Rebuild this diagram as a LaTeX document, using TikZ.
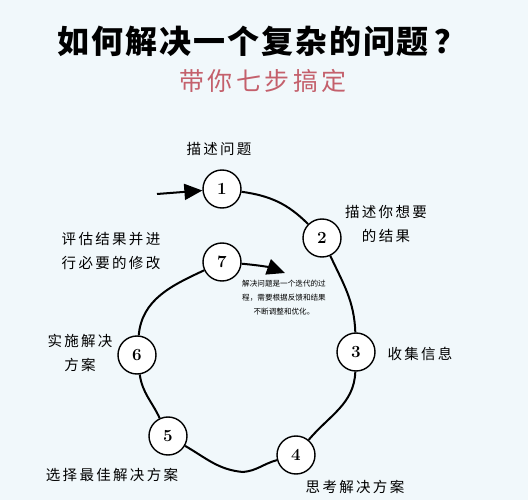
\documentclass[tikz,border=0pt]{standalone}
\usepackage{fontspec}
\newfontfamily\cjk{Noto Sans CJK SC}
\newfontfamily\cjkwide[LetterSpace=16]{Noto Sans CJK SC}
\usetikzlibrary{arrows.meta}
\definecolor{bgblue}{RGB}{241,248,251}
\definecolor{subred}{RGB}{196,96,108}
\begin{document}
\begin{tikzpicture}[x=1pt,y=-1pt,
	stepnode/.style={circle,draw,line width=1.4pt,fill=white,minimum size=38pt,inner sep=0pt,font=\fontsize{17}{17}\selectfont\bfseries},
	steplabel/.style={font=\cjkwide\fontsize{14.5}{24}\selectfont,align=center},
	loopline/.style={line width=2pt},
	bigtip/.style={-{Triangle[length=18pt,width=16pt]}}]
	\fill [bgblue] (0,0) rectangle (528,500);
	\useasboundingbox (0,0) rectangle (528,500);
	\node (title) at (262,41) {\cjk\addfontfeature{LetterSpace=6}\bfseries\fontsize{32}{32}\selectfont 如何解决一个复杂的问题\,？};
	\node (subtitle) at (263,81) [text=subred] {\cjk\addfontfeature{LetterSpace=14}\fontsize{25}{25}\selectfont 带你七步搞定};
	% Schritte
	\node [stepnode] (s1) at (222,189) {1};
	\node [stepnode] (s2) at (322,238) {2};
	\node [stepnode] (s3) at (356,352) {3};
	\node [stepnode] (s4) at (296,455) {4};
	\node [stepnode] (s5) at (168,436) {5};
	\node [stepnode] (s6) at (137,355) {6};
	\node [stepnode] (s7) at (222,262) {7};
	\coordinate (start) at (157,194);
	\coordinate (bottom) at (243,472);
	\coordinate (loopend) at (285,273);
	\draw [loopline] (s1) to[out=-8,in=135] (s2);
	\draw [loopline] (s2) to[out=-65,in=92] (s3);
	\draw [loopline] (s3) to[out=-92,in=50] (s4);
	\draw [loopline] (s4) to[out=195,in=5] (bottom) to[out=175,in=-30] (s5);
	\draw [loopline] (s5) to[out=115,in=-82] (s6);
	\draw [loopline] (s6) to[out=85,in=205] (s7);
	\draw [loopline,bigtip] (s7) to[out=-5,in=160] (loopend);
	\draw [loopline,bigtip] (start) -- (s1);
	% Beschriftungen
	\node [steplabel] (l1) at (219,149) {描述问题};
	\node [steplabel] (l2) at (386,224) {描述你想要\\的结果};
	\node [steplabel] (l3) at (420,354) {收集信息};
	\node [steplabel] (l4) at (355,487) {思考解决方案};
	\node [steplabel] (l5) at (112,475) {选择最佳解决方案};
	\node [steplabel] (l6) at (80,353) {实施解决\\方案};
	\node [steplabel] (l7) at (111,251) {评估结果并进\\行必要的修改};
	\node [font=\cjk\fontsize{7.6}{14}\selectfont,align=center] (note) at (284,298) {解决问题是一个迭代的过\\程，需要根据反馈和结果\\不断调整和优化。};
\end{tikzpicture}
\end{document}
